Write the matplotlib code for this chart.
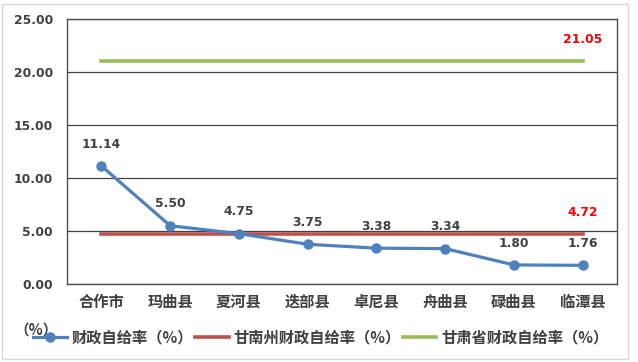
import matplotlib.pyplot as plt
from matplotlib.patches import Rectangle

plt.rcParams['font.family'] = ['Noto Sans CJK SC', 'DejaVu Sans']

# data
regions = ['合作市', '玛曲县', '夏河县', '迭部县', '卓尼县', '舟曲县', '碌曲县', '临潭县']
self_rate = [11.14, 5.50, 4.75, 3.75, 3.38, 3.34, 1.80, 1.76]
gannan_rate = [4.72] * 8
gansu_rate = [21.05] * 8
yticks = [0, 5, 10, 15, 20, 25]

blue = '#4F81BD'
red = '#C0504D'
green = '#9BBB59'
txt = '#404040'


def main():
    fig = plt.figure(figsize=(6.38, 3.62), dpi=100)
    ax = fig.add_axes([67/638, 1 - 284/362, 550/638, 265/362])
    x = range(len(regions))

    p1, = ax.plot(x, self_rate, '-o', color=blue, lw=2.3, ms=6.5, zorder=4)
    p2, = ax.plot(x, gannan_rate, '-', color=red, lw=2.6, zorder=3)
    p3, = ax.plot(x, gansu_rate, '-', color=green, lw=2.6, zorder=3)

    # data labels
    for i, v in enumerate(self_rate):
        ax.annotate('%.2f' % v, (i, v), xytext=(0, 11), textcoords='offset points',
                    ha='center', va='bottom', fontsize=8.8, fontweight='bold',
                    color=txt, family=['DejaVu Sans'])
    ax.annotate('%.2f' % gansu_rate[-1], (7, gansu_rate[-1]), xytext=(0, 11),
                textcoords='offset points', ha='center', va='bottom',
                fontsize=8.8, fontweight='bold', color='red', family=['DejaVu Sans'])
    ax.annotate('%.2f' % gannan_rate[-1], (7, gannan_rate[-1]), xytext=(0, 11),
                textcoords='offset points', ha='center', va='bottom',
                fontsize=8.8, fontweight='bold', color='red', family=['DejaVu Sans'])

    ax.set_xlim(-0.5, 7.5)
    ax.set_ylim(0, 25)
    ax.set_yticks(yticks)
    ax.set_yticklabels(['%.2f' % t for t in yticks], fontsize=8.8, fontweight='bold',
                       color=txt, family=['DejaVu Sans'])
    ax.set_xticks(list(x))
    ax.set_xticklabels(regions, fontsize=11, fontweight='bold', color=txt)
    ax.tick_params(length=0, pad=7)
    ax.tick_params(axis='y', pad=10)
    ax.grid(axis='y', color='#404040', lw=0.9)
    ax.set_axisbelow(True)
    for s in ax.spines.values():
        s.set_color('#505050')
        s.set_linewidth(1.0)

    fig.legend([p1, p2, p3], ['财政自给率（%）', '甘南州财政自给率（%）', '甘肃省财政自给率（%）'],
               loc='center left', bbox_to_anchor=(33/638, 1 - 337/362), ncol=3, frameon=False,
               prop={'size': 11, 'weight': 'bold'}, handlelength=2.2, columnspacing=0.15,
               handletextpad=0.3, borderpad=0, borderaxespad=0, labelcolor=txt)
    fig.text(14/638, 1 - 330/362, '（%）', fontsize=10.5, color=txt, fontweight='bold',
             ha='left', va='center')

    fig.patches.append(Rectangle((2/638, 3/362), 626/638, 355/362, transform=fig.transFigure,
                                 fill=False, edgecolor='#d9d9d9', lw=1.0))
    fig.savefig('out.png', dpi=100)


if __name__ == "__main__":
    main()
